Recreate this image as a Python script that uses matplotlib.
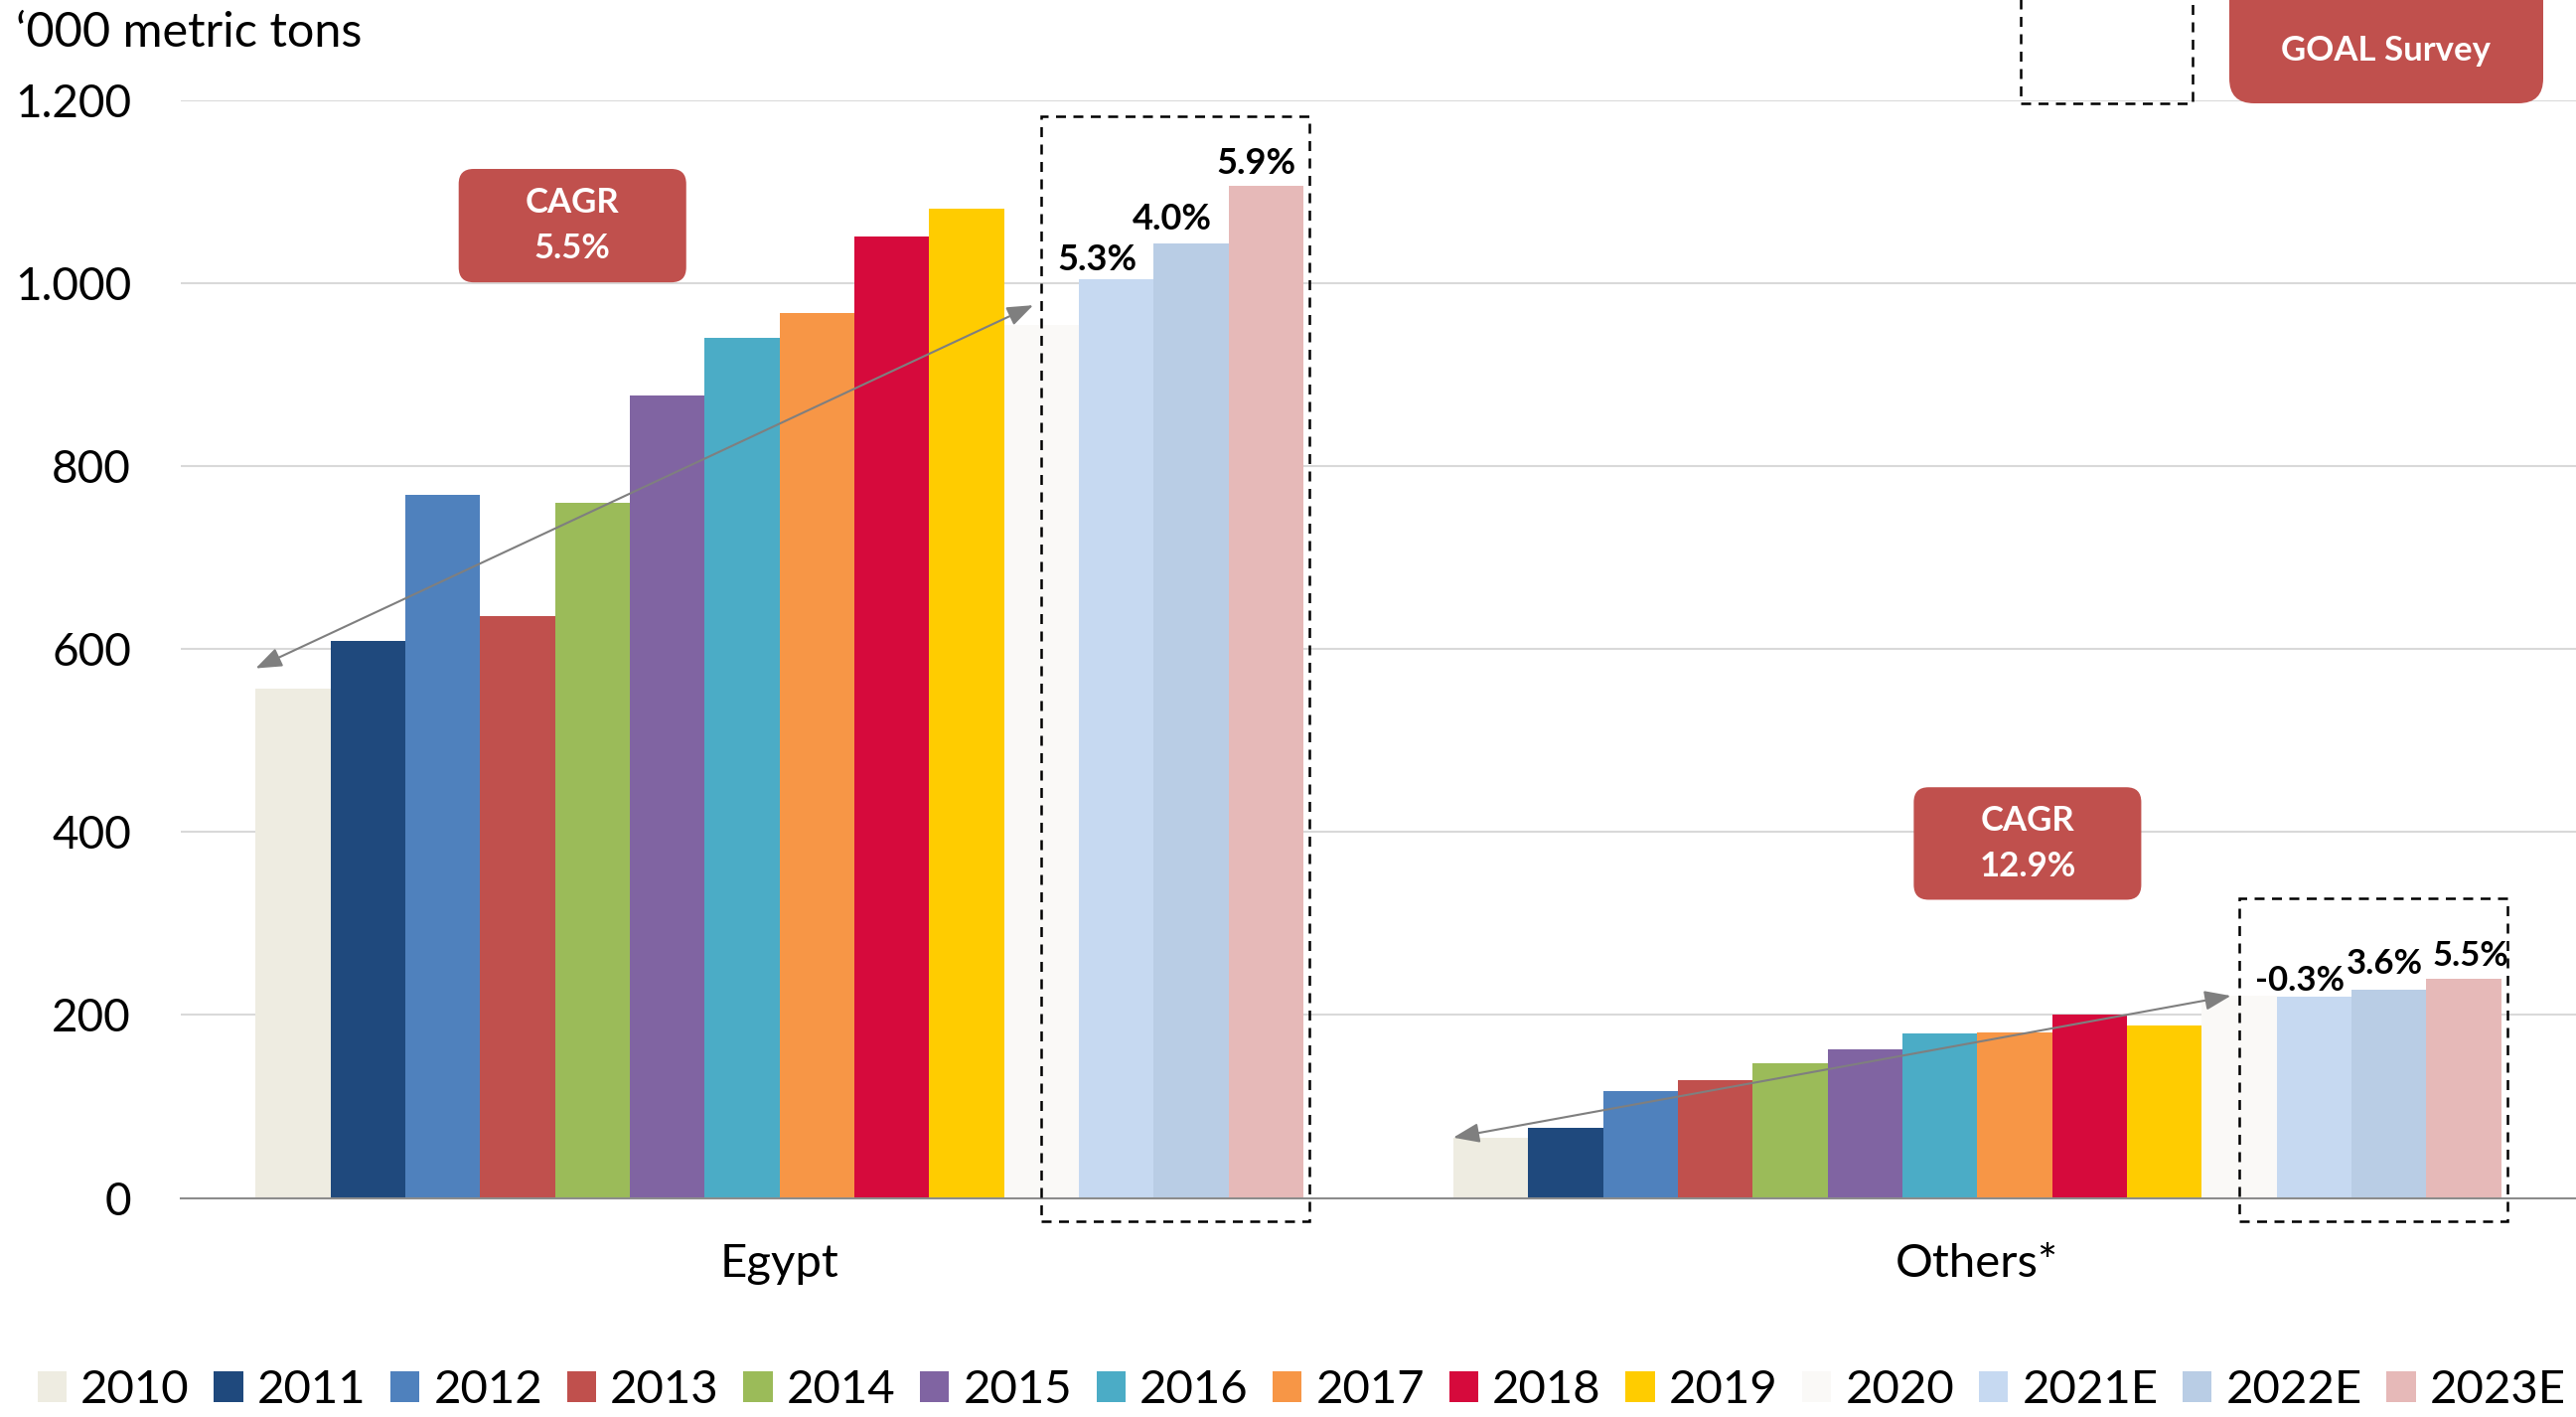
import matplotlib
matplotlib.use('Agg')
import numpy as np
from matplotlib import pyplot as plt
from matplotlib.patches import FancyBboxPatch, Rectangle
from matplotlib.ticker import FuncFormatter

plt.rcParams['font.family'] = ['Lato', 'DejaVu Sans']

categories = ['Egypt', 'Others*']
years = ['2010', '2011', '2012', '2013', '2014', '2015', '2016', '2017',
         '2018', '2019', '2020', '2021E', '2022E', '2023E']
colors = ['#EEECE1', '#1F497D', '#4F81BD', '#C0504D', '#9BBB59', '#8064A2', '#4BACC6',
          '#F79646', '#D60A3C', '#FFCC00', '#FAF9F7', '#C6D9F1', '#B9CDE5', '#E6B9B8']
egypt = [557, 609, 769, 636, 760, 877, 940, 968, 1051, 1081, 954, 1004, 1044, 1106]
others = [66, 77, 117, 129, 147, 162, 180, 181, 201, 189, 221, 220, 228, 240]
growth = [['5.3%', '4.0%', '5.9%'], ['-0.3%', '3.6%', '5.5%']]
cagr = ['5.5%', '12.9%']

red = '#C0504D'
grey = '#7F7F7F'

fig = plt.figure(figsize=(25.93, 14.26), dpi=100)
ax = fig.add_axes([0.0702, 0.1546, 0.9298, 0.7746])

n = len(years)
w = 0.875 / n
x = np.arange(len(categories))
values = np.array([egypt, others])

bars = []
for i, yr in enumerate(years):
    b = ax.bar(x + (i - (n - 1) / 2) * w, values[:, i], w, color=colors[i],
               label=yr, zorder=2, linewidth=0)
    bars.append(b)

ax.set_xlim(-0.5, 1.5)
ax.set_ylim(0, 1200)
ax.set_yticks(np.arange(0, 1201, 200))
ax.yaxis.set_major_formatter(FuncFormatter(lambda v, p: f'{int(v):,}'.replace(',', '.')))
ax.set_xticks(x)
ax.set_xticklabels(categories)
ax.tick_params(axis='y', length=0, pad=36, labelsize=33)
ax.tick_params(axis='x', length=0, pad=33, labelsize=34)
ax.grid(axis='y', color='#D9D9D9', linewidth=1.5, zorder=0)
ax.set_axisbelow(True)
for s in ['left', 'top', 'right']:
    ax.spines[s].set_visible(False)
ax.spines['bottom'].set_color('#8C8C8C')
ax.spines['bottom'].set_linewidth(1.5)
ax.spines['bottom'].set_zorder(3)

fig.text(16 / 2593, 1 - 33 / 1426, '\u2018000 metric tons', fontsize=35, va='center', ha='left')

# growth labels over forecast bars (offsets in points)
label_size = [26, 25]
label_off = [[(-14, 7), (-14, 10), (-7, 9)], [(-10, 4), (-3, 11), (5, 9)]]
for g in range(len(categories)):
    for k, lab in enumerate(growth[g]):
        i = n - 3 + k
        ax.annotate(lab, (x[g] + (i - (n - 1) / 2) * w, values[g, i]), xytext=label_off[g][k],
                    textcoords='offset points', ha='center', va='baseline',
                    fontsize=label_size[g], fontweight='bold', zorder=5)

# dashed boxes around forecast
box_top = [1183, 328]
for g in range(len(categories)):
    x0 = x[g] + (n - 4 - (n - 1) / 2) * w
    x1 = x[g] + (n - 1 - (n - 1) / 2) * w + w / 2 + 0.005
    ax.add_patch(Rectangle((x0, -25), x1 - x0, box_top[g] + 25, fill=False,
                           ls=(0, (4, 3)), lw=1.8, ec='black', zorder=6, clip_on=False))

# CAGR arrows
lift = [22, 0]
for g in range(len(categories)):
    tail = (x[g] - 7 * w, values[g, 0] + lift[g])
    head = (x[g] + (n - 4 - (n - 1) / 2) * w - 0.007, values[g, n - 4] + lift[g])
    ax.annotate('', xy=head, xytext=tail,
                arrowprops=dict(arrowstyle='<|-|>,head_length=0.8,head_width=0.3',
                                color=grey, lw=1.5, mutation_scale=20, shrinkA=0, shrinkB=0),
                zorder=4)


def to_inch(px, py):
    d = ax.transData.transform((px, py))
    return fig.dpi_scale_trans.inverted().transform(d)


# CAGR boxes (data positions of box corners)
cagr_box = [(-0.268, 1001, -0.078, 1125), (0.947, 326, 1.137, 449)]
for g, (bx0, by0, bx1, by1) in enumerate(cagr_box):
    p0 = to_inch(bx0, by0)
    p1 = to_inch(bx1, by1)
    fig.patches.append(FancyBboxPatch(p0, p1[0] - p0[0], p1[1] - p0[1],
                                      boxstyle='round,pad=0,rounding_size=0.15',
                                      transform=fig.dpi_scale_trans, fc=red, ec='none', zorder=7))
    fig.text((p0[0] + p1[0]) / 2 / 25.93, (p0[1] + p1[1]) / 2 / 14.26, 'CAGR\n' + cagr[g],
             ha='center', va='center', color='white', fontsize=25, fontweight='bold',
             linespacing=1.55, zorder=8)

# top right legend-ish boxes
fig.patches.append(Rectangle((20.34, 13.22), 1.73, 1.5, fill=False, ls=(0, (4, 3)), lw=1.8,
                             ec='black', transform=fig.dpi_scale_trans))
fig.patches.append(FancyBboxPatch((22.44, 13.22), 3.16, 1.5, boxstyle='round,pad=0,rounding_size=0.25',
                                  transform=fig.dpi_scale_trans, fc=red, ec='none'))
fig.text(24.02 / 25.93, 1 - 51 / 1426, 'GOAL Survey', ha='center', va='center', color='white',
         fontsize=25, fontweight='bold')

fig.legend(handles=bars, labels=years, loc='center', bbox_to_anchor=(0.5053, 0.0189), ncol=n,
           frameon=False, fontsize=34, handlelength=0.62, handleheight=0.62,
           handletextpad=0.3, columnspacing=0.52, borderaxespad=0)

fig.savefig('out.png', dpi=100)
